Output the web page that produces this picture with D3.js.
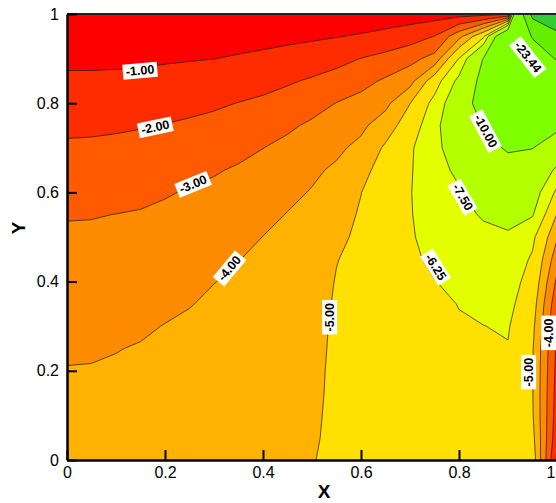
<!DOCTYPE html>
<html>
<head>
<meta charset="utf-8">
<script src="https://cdn.jsdelivr.net/npm/d3@7"></script>
<style>
  body { margin: 0; background: #fff; }
  svg { display: block; font-family: Arial, "Liberation Sans", sans-serif; }
</style>
</head>
<body>
<svg id="chart" width="556" height="503"></svg>
<script>
// =============================
// Field values
// one array per column x = 0, 0.05, ... 1
// each listed from y = 1 (top) down to y = 0
// =============================
const x000 = [-0.30,-0.57,-0.84,-1.14,-1.48,-1.82,-2.13,-2.40,-2.67,-2.95,-3.12,-3.28,-3.43,-3.59,-3.74,-3.90,-4.03,-4.11,-4.19,-4.27,-4.35];
const x005 = [-0.30,-0.57,-0.84,-1.14,-1.49,-1.84,-2.15,-2.42,-2.69,-2.96,-3.14,-3.29,-3.45,-3.61,-3.76,-3.92,-4.04,-4.12,-4.21,-4.29,-4.37];
const x010 = [-0.30,-0.57,-0.85,-1.16,-1.53,-1.89,-2.19,-2.46,-2.73,-3.01,-3.16,-3.33,-3.49,-3.66,-3.82,-3.98,-4.07,-4.16,-4.24,-4.32,-4.40];
const x015 = [-0.30,-0.58,-0.87,-1.20,-1.58,-1.95,-2.25,-2.53,-2.81,-3.06,-3.23,-3.40,-3.57,-3.74,-3.91,-4.04,-4.12,-4.20,-4.29,-4.37,-4.45];
const x020 = [-0.30,-0.60,-0.91,-1.27,-1.65,-2.03,-2.33,-2.64,-2.94,-3.14,-3.32,-3.50,-3.68,-3.86,-4.02,-4.10,-4.18,-4.26,-4.34,-4.42,-4.50];
const x025 = [-0.30,-0.62,-0.95,-1.34,-1.75,-2.13,-2.45,-2.77,-3.06,-3.25,-3.43,-3.62,-3.81,-3.98,-4.08,-4.16,-4.24,-4.31,-4.39,-4.47,-4.55];
const x030 = [-0.30,-0.65,-0.99,-1.43,-1.87,-2.24,-2.59,-2.93,-3.17,-3.38,-3.58,-3.79,-3.99,-4.08,-4.15,-4.23,-4.30,-4.38,-4.45,-4.53,-4.60];
const x035 = [-0.30,-0.68,-1.08,-1.55,-2.02,-2.39,-2.77,-3.09,-3.32,-3.55,-3.77,-3.99,-4.08,-4.15,-4.23,-4.30,-4.38,-4.45,-4.53,-4.60,-4.68];
const x040 = [-0.30,-0.73,-1.18,-1.69,-2.17,-2.58,-2.99,-3.26,-3.53,-3.79,-4.01,-4.09,-4.16,-4.24,-4.31,-4.38,-4.46,-4.53,-4.60,-4.68,-4.75];
const x045 = [-0.30,-0.79,-1.32,-1.89,-2.38,-2.86,-3.21,-3.52,-3.82,-4.03,-4.10,-4.18,-4.25,-4.33,-4.40,-4.48,-4.55,-4.63,-4.70,-4.78,-4.85];
const x050 = [-0.30,-0.86,-1.49,-2.11,-2.67,-3.14,-3.50,-3.86,-4.05,-4.12,-4.20,-4.27,-4.35,-4.42,-4.50,-4.57,-4.65,-4.72,-4.80,-4.87,-4.95];
const x055 = [-0.35,-0.96,-1.70,-2.38,-3.02,-3.42,-3.83,-4.13,-4.33,-4.54,-4.75,-4.96,-5.07,-5.16,-5.25,-5.28,-5.30,-5.29,-5.28,-5.26,-5.25];
const x060 = [-0.40,-1.09,-2.02,-2.71,-3.30,-3.80,-4.23,-4.62,-4.98,-5.12,-5.23,-5.35,-5.40,-5.45,-5.50,-5.50,-5.50,-5.50,-5.48,-5.47,-5.45];
const x065 = [-0.45,-1.27,-2.31,-3.13,-3.75,-4.50,-5.15,-5.53,-5.77,-5.82,-5.85,-5.85,-5.82,-5.80,-5.77,-5.75,-5.73,-5.71,-5.70,-5.68,-5.66];
const x070 = [-0.50,-1.55,-2.70,-3.64,-4.98,-5.55,-6.10,-6.15,-6.20,-6.18,-6.15,-6.10,-6.05,-6.00,-5.95,-5.93,-5.92,-5.90,-5.88,-5.87,-5.85];
const x075 = [-0.55,-2.02,-3.33,-5.63,-6.63,-7.10,-7.05,-7.00,-6.90,-6.80,-6.60,-6.40,-6.23,-6.17,-6.10,-6.07,-6.03,-6.00,-5.98,-5.97,-5.95];
const x080 = [-0.60,-3.67,-6.30,-7.87,-8.68,-8.81,-8.50,-7.79,-7.36,-7.22,-6.90,-6.68,-6.47,-6.26,-6.22,-6.18,-6.15,-6.12,-6.10,-6.08,-6.05];
const x085 = [-0.65,-6.00,-10.1,-10.8,-11.1,-10.1,-9.40,-8.80,-8.20,-7.60,-7.25,-7.00,-6.75,-6.45,-6.24,-6.22,-6.20,-6.19,-6.17,-6.16,-6.15];
const x090 = [-0.80,-14.0,-13.0,-12.5,-12.0,-11.2,-10.2,-9.30,-8.50,-7.85,-7.35,-7.00,-6.75,-6.55,-6.33,-6.20,-6.15,-6.10,-6.10,-6.15,-6.20];
const x095 = [-38.0,-24.0,-19.0,-15.5,-13.0,-11.5,-10.05,-9.00,-8.20,-7.60,-6.50,-6.10,-5.80,-5.50,-5.25,-5.10,-5.05,-5.05,-5.10,-5.30,-5.60];
const x100 = [-45.0,-32.0,-24.0,-17.0,-13.5,-10.5,-8.80,-7.20,-6.00,-4.95,-4.10,-3.40,-2.80,-2.30,-2.05,-1.80,-1.70,-1.60,-1.50,-1.30,-0.80];

// contour levels (ascending) and the fill of the band just above each
const levels     = [-35, -23.44, -10, -7.5, -6.25, -5, -4, -3, -2, -1];
const bandColors = ["#66ee00", "#80ff00", "#b4ff00", "#e4ff00", "#ffe000", "#ffb300", "#ff8c00", "#ff5a00", "#ff2c00", "#ff0000"];
const lowColor   = "#33cc33";

// labelled lines: level text and where it sits (data units)
const labelText  = ["-1.00", "-2.00", "-3.00", "-4.00", "-5.00", "-6.25", "-7.50", "-10.00", "-23.44", "-5.00", "-4.00"];
const labelX     = [0.149, 0.180, 0.257, 0.331, 0.535, 0.753, 0.808, 0.855, 0.941, 0.941, 0.982];
const labelY     = [0.874, 0.747, 0.619, 0.430, 0.320, 0.433, 0.590, 0.738, 0.904, 0.197, 0.285];
const labelAngle = [-5, -12, -22, -50, -90, 58, 60, 62, 52, -90, -90];

const xTicks = [0, 0.2, 0.4, 0.6, 0.8, 1];
const yTicks = [0, 0.2, 0.4, 0.6, 0.8, 1];

// =============================
// Drawing
// =============================
const columns = [x000, x005, x010, x015, x020, x025, x030, x035, x040, x045, x050,
                 x055, x060, x065, x070, x075, x080, x085, x090, x095, x100];
const nx = columns.length;
const ny = columns[0].length;

// row-major table for d3.contours (row 0 = top of plot)
const grid = new Array(nx * ny);
for (let j = 0; j < ny; j++) {
    for (let i = 0; i < nx; i++) grid[j * nx + i] = columns[i][j];
}

const svg = d3.select("#chart");

const x = d3.scaleLinear().domain([0, 1]).range([67, 557]);
const y = d3.scaleLinear().domain([0, 1]).range([460, 14]);

// grid coordinates -> data -> pixels
const toPixels = d3.geoTransform({
    point: function (gx, gy) {
        const dx = (gx - 0.5) / (nx - 1);
        const dy = 1 - (gy - 0.5) / (ny - 1);
        this.stream.point(x(dx), y(dy));
    }
});
const path = d3.geoPath(toPixels);

const contours = d3.contours().size([nx, ny]).thresholds(levels)(grid);

svg.append("defs").append("clipPath").attr("id", "plot-clip")
    .append("rect")
    .attr("x", x(0)).attr("y", y(1))
    .attr("width", x(1) - x(0)).attr("height", y(0) - y(1));

const plot = svg.append("g").attr("clip-path", "url(#plot-clip)");

plot.append("rect")
    .attr("x", x(0)).attr("y", y(1))
    .attr("width", x(1) - x(0)).attr("height", y(0) - y(1))
    .attr("fill", lowColor);

plot.append("g")
    .selectAll("path")
    .data(contours)
    .enter()
    .append("path")
    .attr("d", path)
    .attr("fill", (d, i) => bandColors[i])
    .attr("stroke", "none");

plot.append("g")
    .selectAll("path")
    .data(contours)
    .enter()
    .append("path")
    .attr("d", path)
    .attr("fill", "none")
    .attr("stroke", "#1a1a1a")
    .attr("stroke-width", 0.7);

// line labels
const labels = plot.append("g")
    .selectAll("g")
    .data(labelText.map((t, i) => ({ t, lx: labelX[i], ly: labelY[i], a: labelAngle[i] })))
    .enter()
    .append("g")
    .attr("transform", d => `translate(${x(d.lx)},${y(d.ly)}) rotate(${d.a})`);

labels.append("text")
    .text(d => d.t)
    .attr("text-anchor", "middle")
    .attr("dy", "0.36em")
    .attr("font-size", "12.5px")
    .attr("font-weight", "bold")
    .attr("fill", "#000");

labels.each(function () {
    const grp = d3.select(this);
    const bb = grp.select("text").node().getBBox();
    grp.insert("rect", "text")
        .attr("x", bb.x - 3).attr("y", bb.y - 0.5)
        .attr("width", bb.width + 6).attr("height", bb.height + 1)
        .attr("fill", "#fff");
});

// frame top line
svg.append("line")
    .attr("x1", x(0)).attr("x2", x(1))
    .attr("y1", y(1)).attr("y2", y(1))
    .attr("stroke", "#222").attr("stroke-width", 2);

// axes
const fmt = d => (d === 0 || d === 1) ? String(d) : d.toFixed(1);

const xAxis = svg.append("g")
    .attr("transform", `translate(0,${y(0)})`)
    .call(d3.axisBottom(x).tickValues(xTicks).tickFormat(fmt)
        .tickSizeInner(-10).tickSizeOuter(0).tickPadding(7));

const yAxis = svg.append("g")
    .attr("transform", `translate(${x(0)},0)`)
    .call(d3.axisLeft(y).tickValues(yTicks).tickFormat(fmt)
        .tickSizeInner(-10).tickSizeOuter(0).tickPadding(8));

[xAxis, yAxis].forEach(a => {
    a.select(".domain").attr("stroke", "#000").attr("stroke-width", 2.5);
    a.selectAll(".tick line").attr("stroke", "#000").attr("stroke-width", 2);
    a.selectAll(".tick text")
        .attr("fill", "#000")
        .attr("font-size", "16px")
        .attr("font-family", "Arial, 'Liberation Sans', sans-serif");
});

// the last x label sits at the window's right edge: keep it inside
xAxis.selectAll(".tick text").filter(d => d === 1)
    .attr("text-anchor", "end")
    .attr("dx", "-2");

// axis titles
svg.append("text")
    .attr("x", 324).attr("y", 498)
    .attr("text-anchor", "middle")
    .attr("font-size", "19px")
    .attr("font-weight", "bold")
    .text("X");

svg.append("text")
    .attr("transform", "translate(25,228) rotate(-90)")
    .attr("text-anchor", "middle")
    .attr("font-size", "19px")
    .attr("font-weight", "bold")
    .text("Y");
</script>
</body>
</html>
